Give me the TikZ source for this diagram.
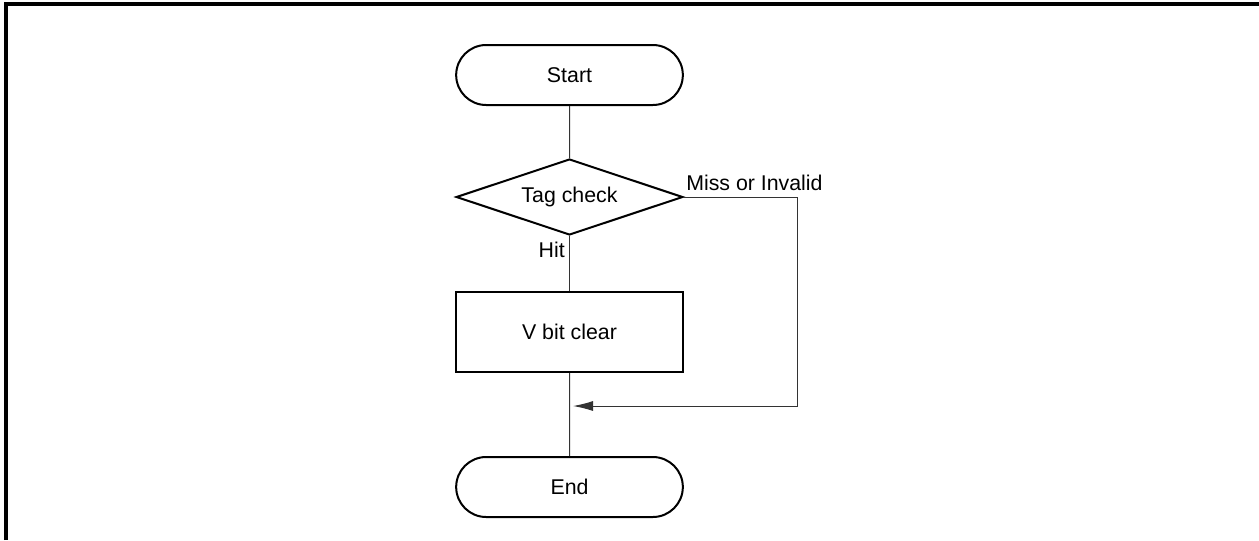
\documentclass[tikz,border=0pt]{standalone}
\usepackage{fontspec}
\setmainfont{Liberation Sans}
\usetikzlibrary{shapes.geometric,shapes.misc,arrows.meta}
\begin{document}
\begin{tikzpicture}[
    x=0.75pt, y=-0.75pt,
    fcTerm/.style={rounded rectangle, draw, line width=1.5pt, minimum width=170pt, minimum height=45pt, inner sep=0pt},
    fcDecision/.style={diamond, draw, line width=1.5pt, aspect=3, minimum width=170pt, minimum height=57pt, inner sep=0pt},
    fcProcess/.style={rectangle, draw, line width=1.5pt, minimum width=170pt, minimum height=60pt, inner sep=0pt},
    fcLine/.style={draw=black!80, line width=0.75pt},
    fcLabel/.style={inner sep=0pt},
    font=\fontsize{16}{19}\selectfont
]
\useasboundingbox (0,0) rectangle (1259,540);
\draw[line width=2.5pt] (6,540) -- (6,4) -- (1259,4);

\node[fcTerm] (start) at (569.5,75) {Start};
\node[fcDecision] (tag) at (569.5,197) {Tag check};
\node[fcProcess] (vbit) at (569.5,332) {V bit clear};
\node[fcTerm] (end) at (569.5,487) {End};
\coordinate (turn) at (797,197);
\coordinate (merge) at (573,406);

\draw[fcLine] (start) -- (tag);
\draw[fcLine] (tag) -- (vbit);
\draw[fcLine] (vbit) -- (end);
\draw[fcLine, -{Latex[length=15pt,width=7.5pt]}] (tag.east) -- (turn) |- (merge);

\node[fcLabel, anchor=base west] (miss) at (686,190) {Miss or Invalid};
\node[fcLabel, anchor=base east] (hit) at (565,257) {Hit};
\end{tikzpicture}
\end{document}
